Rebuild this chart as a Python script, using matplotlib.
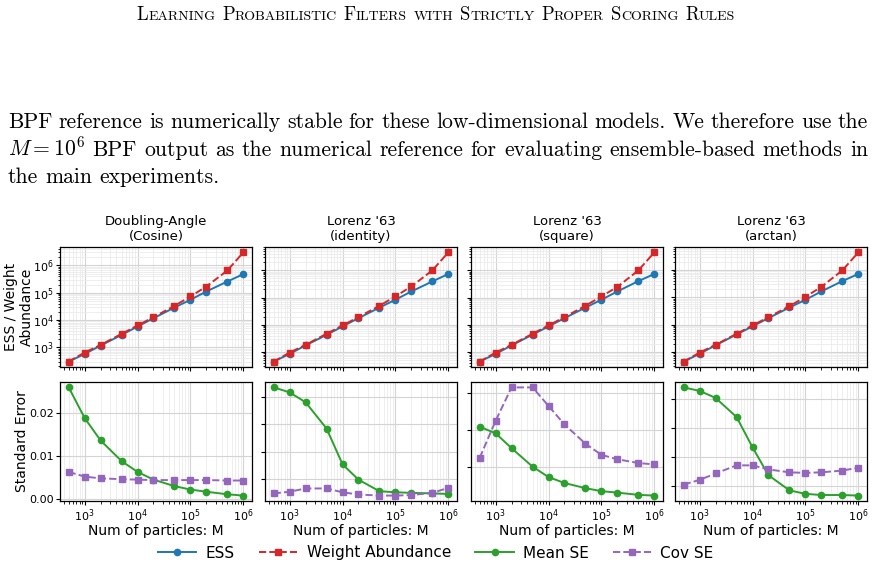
import re
import matplotlib
matplotlib.use('Agg')
import matplotlib.pyplot as plt
from matplotlib.ticker import MultipleLocator
from matplotlib.lines import Line2D

# page text around the figure
header = 'Learning Probabilistic Filters with Strictly Proper Scoring Rules'
para_lines = [
    'BPF reference is numerically stable for these low-dimensional models. We therefore use the',
    r'$M = 10^6$ BPF output as the numerical reference for evaluating ensemble-based methods in',
    'the main experiments.',
]

# figure data
particles = [500, 1000, 2000, 5000, 10000, 20000, 50000, 100000, 200000, 500000, 1000000]
titles = ['Doubling-Angle\n(Cosine)', "Lorenz '63\n(identity)", "Lorenz '63\n(square)", "Lorenz '63\n(arctan)"]

ess = [
    [300, 570, 1150, 2850, 5750, 11600, 28700, 55000, 111000, 258000, 480000],
    [450, 860, 1750, 4300, 8700, 17500, 43000, 83000, 167000, 390000, 730000],
    [450, 860, 1750, 4400, 8700, 17500, 43000, 83000, 167000, 400000, 730000],
    [445, 860, 1750, 4400, 8700, 17500, 43000, 82000, 167000, 400000, 730000],
]
weight_abundance = [
    [300, 640, 1220, 3100, 6300, 12700, 33000, 73000, 169000, 655000, 3000000],
    [450, 960, 1850, 4700, 9500, 19200, 50000, 110000, 255000, 990000, 4500000],
    [450, 960, 1850, 4700, 9500, 19200, 50000, 110000, 245000, 990000, 4500000],
    [445, 950, 1830, 4650, 9400, 19000, 48000, 105000, 245000, 990000, 4500000],
]
mean_se = [
    [0.0260, 0.0189, 0.0137, 0.0089, 0.0064, 0.0046, 0.0031, 0.0023, 0.0018, 0.0012, 0.0009],
    [0.0217, 0.0208, 0.0190, 0.0142, 0.0077, 0.0049, 0.0028, 0.0026, 0.0025, 0.0024, 0.0023],
    [0.0104, 0.0095, 0.0075, 0.0050, 0.0036, 0.0028, 0.0021, 0.0017, 0.0015, 0.0012, 0.0011],
    [0.0220, 0.0214, 0.0202, 0.0169, 0.0117, 0.0069, 0.0043, 0.0037, 0.0035, 0.0035, 0.0034],
]
cov_se = [
    [0.0064, 0.0053, 0.0049, 0.0047, 0.0046, 0.0045, 0.0045, 0.0045, 0.0045, 0.0044, 0.0044],
    [0.0024, 0.0027, 0.0033, 0.0033, 0.0026, 0.0022, 0.0020, 0.0020, 0.0021, 0.0025, 0.0034],
    [0.0062, 0.0112, 0.0157, 0.0157, 0.0132, 0.0107, 0.0081, 0.0066, 0.0060, 0.0055, 0.0053],
    [0.0053, 0.0061, 0.0072, 0.0086, 0.0086, 0.0079, 0.0074, 0.0073, 0.0074, 0.0077, 0.0082],
]
se_step = [0.01, 0.005, 0.005, 0.005]

BLUE, RED, GREEN, PURPLE = '#1f77b4', '#d62728', '#2ca02c', '#9467bd'

W, H = 875, 570
plt.rcParams['mathtext.fontset'] = 'cm'
fig = plt.figure(figsize=(W / 100, H / 100), dpi=100)
renderer = fig.canvas.get_renderer()


def measure(s, size):
    t = fig.text(0, 0, s, fontsize=size, family='cmr10')
    w = t.get_window_extent(renderer).width
    t.remove()
    return w


def put(x, y, s, size):
    fig.text(x / W, 1 - y / H, s, fontsize=size, family='cmr10', va='baseline')


# running header in small caps
big, small = 13.5, 10.0
words = []
for word in header.split():
    runs = []
    for ch in word:
        size = big if ch.isupper() else small
        if runs and runs[-1][1] == size:
            runs[-1][0] += ch.upper()
        else:
            runs.append([ch.upper(), size])
    words.append(runs)
space = big * 100 / 72 * 0.36
total = sum(measure(r[0], r[1]) for runs in words for r in runs) + space * (len(words) - 1)
x = 436 - total / 2
for runs in words:
    for txt, size in runs:
        put(x, 20, txt, size)
        x += measure(txt, size)
    x += space

# paragraph, first two lines justified
psize = 15.6
baselines = [128, 155.5, 183]
for i, line in enumerate(para_lines):
    tokens = re.findall(r'\$[^$]*\$|\S+', line)
    widths = [measure(t, psize) for t in tokens]
    if i < 2:
        gap = (860 - sum(widths)) / (len(tokens) - 1)
    else:
        gap = psize * 100 / 72 * 0.333
    x = 8
    for t, w in zip(tokens, widths):
        put(x, baselines[i], t, psize)
        x += w + gap

# figure panels
col_left = [60, 265, 471, 675]
col_w = 192
for i in range(4):
    l = col_left[i]
    ax_t = fig.add_axes([l / W, 1 - 367 / H, col_w / W, 120 / H])
    ax_b = fig.add_axes([l / W, 1 - 501 / H, col_w / W, 119 / H], sharex=ax_t)

    ax_t.plot(particles, ess[i], '-o', color=BLUE, lw=1.4, ms=4.5)
    ax_t.plot(particles, weight_abundance[i], '--s', color=RED, lw=1.4, ms=4.8)
    ax_t.set_xscale('log')
    ax_t.set_yscale('log')
    ax_t.set_title(titles[i], fontsize=9.5, pad=5)

    ax_b.plot(particles, mean_se[i], '-o', color=GREEN, lw=1.4, ms=4.5)
    ax_b.plot(particles, cov_se[i], '--s', color=PURPLE, lw=1.4, ms=4.8)
    ax_b.yaxis.set_major_locator(MultipleLocator(se_step[i]))
    ax_b.set_xlabel('Num of particles: M', fontsize=10, labelpad=0)

    for ax in (ax_t, ax_b):
        ax.set_axisbelow(True)
        ax.grid(True, which='major', color='#d4d4d4', lw=0.8)
        ax.grid(True, which='minor', color='#ebebeb', lw=0.6)
        ax.tick_params(which='major', labelsize=8, length=3, width=0.8, pad=1.5)
        ax.tick_params(which='minor', length=1.8, width=0.6)
        for sp in ax.spines.values():
            sp.set_linewidth(0.9)
    ax_b.grid(False, axis='y', which='minor')
    ax_t.tick_params(labelbottom=False)
    if i == 0:
        ax_t.set_ylabel('ESS / Weight\nAbundance', fontsize=10, labelpad=-1)
        ax_b.set_ylabel('Standard Error', fontsize=10, labelpad=0)
    else:
        ax_t.tick_params(labelleft=False)
        ax_b.tick_params(labelleft=False)

handles = [
    Line2D([], [], color=BLUE, ls='-', marker='o', lw=1.4, ms=4.5),
    Line2D([], [], color=RED, ls='--', marker='s', lw=1.4, ms=4.8),
    Line2D([], [], color=GREEN, ls='-', marker='o', lw=1.4, ms=4.5),
    Line2D([], [], color=PURPLE, ls='--', marker='s', lw=1.4, ms=4.8),
]
labels = ['ESS', 'Weight Abundance', 'Mean SE', 'Cov SE']
fig.legend(handles, labels, loc='center', bbox_to_anchor=(436 / W, 1 - 553 / H), ncol=4,
           frameon=False, fontsize=11, handlelength=2.5, columnspacing=1.6, handletextpad=0.6)

fig.savefig('out.png', dpi=100)
